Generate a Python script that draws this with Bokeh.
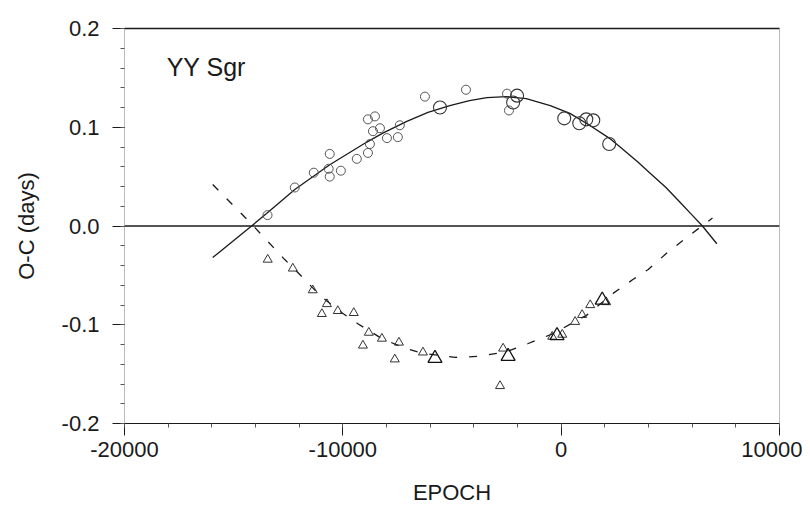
import numpy as np
from bokeh.plotting import figure
from bokeh.models import FixedTicker, PrintfTickFormatter, LinearAxis, Span, Label, Range1d
from bokeh.embed import file_html
from bokeh.resources import INLINE

# ---- data ----
# primary minima (circles), small and large symbols
prim_small_epoch = [-13450, -12200, -11330, -10600, -10650, -10600, -10090, -9360, -8850,
                    -8760, -8850, -8530, -8620, -8300, -7980, -7390, -7480, -6240, -4360,
                    -2480, -2390]
prim_small_oc = [0.011, 0.039, 0.054, 0.073, 0.058, 0.050, 0.056, 0.068, 0.074,
                 0.083, 0.108, 0.111, 0.096, 0.099, 0.089, 0.102, 0.090, 0.131, 0.138,
                 0.134, 0.117]
prim_big_epoch = [-5550, -2020, -2200, 140, 830, 1150, 1470, 2200]
prim_big_oc = [0.120, 0.132, 0.125, 0.109, 0.104, 0.108, 0.107, 0.083]

# secondary minima (triangles), small and large symbols
sec_small_epoch = [-13440, -12290, -11380, -10730, -10960, -10230, -9500, -8810, -8210,
                   -9080, -7430, -7620, -6330, -2660, -2800, 50, -410, 640, 960, 1330, 2060]
sec_small_oc = [-0.034, -0.043, -0.065, -0.079, -0.089, -0.086, -0.088, -0.108, -0.114,
                -0.121, -0.118, -0.135, -0.128, -0.124, -0.162, -0.110, -0.112, -0.097,
                -0.090, -0.080, -0.077]
sec_big_epoch = [-5780, -2430, -190, 1880]
sec_big_oc = [-0.134, -0.132, -0.111, -0.075]

# fitted curves, read along their course
fit_prim_epoch = [-15960, -14180, -13480, -12200, -10600, -8900, -8170, -7070, -6100,
                  -5100, -4200, -3400, -2500, -1600, -500, 400, 1300, 2200, 2700,
                  3500, 4100, 4800, 5400, 6000, 6470, 7130]
fit_prim_oc = [-0.032, 0.000, 0.013, 0.037, 0.062, 0.085, 0.094, 0.106, 0.115,
               0.122, 0.127, 0.130, 0.131, 0.129, 0.122, 0.114, 0.102, 0.089, 0.080,
               0.065, 0.053, 0.039, 0.025, 0.011, 0.000, -0.018]
fit_sec_epoch = [-15960, -14180, -12660, -11840, -11060, -10230, -9310, -8210, -7250,
                 -6330, -4860, -3720, -2480, -1510, -370, 1190, 2390, 3300, 3990,
                 4860, 5780, 6930]
fit_sec_oc = [0.042, 0.002, -0.034, -0.052, -0.070, -0.085, -0.099, -0.114, -0.123,
              -0.129, -0.133, -0.132, -0.127, -0.119, -0.109, -0.090, -0.068, -0.054,
              -0.044, -0.027, -0.011, 0.008]

x_ticks = [-20000, -10000, 0, 10000]
y_ticks = [-0.2, -0.1, 0.0, 0.1, 0.2]
star_name = "YY Sgr"
x_title = "EPOCH"
y_title = "O-C (days)"

FONT = "Liberation Sans"
INK = "#1a1a1a"

p = figure(width=802, height=512, output_backend="svg", toolbar_location=None,
           x_range=Range1d(-20000, 10000), y_range=Range1d(-0.2, 0.2),
           min_border_left=124, min_border_right=23, min_border_top=28,
           min_border_bottom=89, background_fill_color="white",
           border_fill_color="white")
p.outline_line_color = None
p.grid.visible = False

# axes styling
for ax in (p.xaxis[0], p.yaxis[0]):
    ax.major_label_text_font = FONT
    ax.major_label_text_font_size = "22px"
    ax.major_label_text_color = INK
    ax.axis_label_text_font = FONT
    ax.axis_label_text_font_size = "22px"
    ax.axis_label_text_font_style = "normal"
    ax.axis_label_text_color = INK
    ax.major_tick_in = 0
    ax.major_tick_out = 12
    ax.minor_tick_in = 0
    ax.minor_tick_out = 4
    ax.major_tick_line_color = INK
    ax.minor_tick_line_color = "#555555"

p.xaxis.ticker = FixedTicker(ticks=x_ticks,
                             minor_ticks=list(range(-20000, 10001, 2000)))
p.xaxis.formatter = PrintfTickFormatter(format="%d")
p.xaxis.axis_label = x_title
p.xaxis.major_label_standoff = 6
p.xaxis.axis_label_standoff = 20
p.xaxis.axis_line_color = INK
p.xaxis.axis_line_width = 1.2

p.yaxis.ticker = FixedTicker(ticks=y_ticks,
                             minor_ticks=[round(v, 2) for v in np.arange(-0.2, 0.2001, 0.02)])
p.yaxis.formatter = PrintfTickFormatter(format="%.1f")
p.yaxis.axis_label = y_title
p.yaxis.major_label_standoff = 13
p.yaxis.axis_label_standoff = 20
p.yaxis.axis_line_color = "#777777"
p.yaxis.axis_line_dash = "1 1"
p.yaxis.major_label_orientation = "horizontal"

# top frame line (solid) and right frame line (dotted)
top = LinearAxis(major_tick_line_color=None, minor_tick_line_color=None,
                 major_label_text_font_size="0px", axis_line_color=INK,
                 axis_line_width=1.4)
top.ticker = FixedTicker(ticks=[])
p.add_layout(top, "above")
right = LinearAxis(major_tick_line_color=None, minor_tick_line_color=None,
                   major_label_text_font_size="0px", axis_line_color="#777777",
                   axis_line_dash="1 1")
right.ticker = FixedTicker(ticks=[])
p.add_layout(right, "right")

# zero line
p.add_layout(Span(location=0, dimension="width", line_color=INK, line_width=1.4))

# fitted curves
p.line(fit_prim_epoch, fit_prim_oc, line_color=INK, line_width=1.3)
p.line(fit_sec_epoch, fit_sec_oc, line_color=INK, line_width=1.3, line_dash="8 12")

# observations
p.scatter(prim_small_epoch, prim_small_oc, marker="circle", size=9,
          fill_color=None, line_color="#555555", line_width=1)
p.scatter(prim_big_epoch, prim_big_oc, marker="circle", size=13,
          fill_color=None, line_color="#333333", line_width=1.1)
p.scatter(sec_small_epoch, sec_small_oc, marker="triangle", size=9,
          fill_color=None, line_color="#333333", line_width=1)
p.scatter(sec_big_epoch, sec_big_oc, marker="triangle", size=14,
          fill_color=None, line_color="#111111", line_width=1.3)

p.add_layout(Label(x=-18070, y=0.147, text=star_name, text_font=FONT,
                   text_font_size="25px", text_color=INK))

open("out.html", "w").write(file_html(p, INLINE))
